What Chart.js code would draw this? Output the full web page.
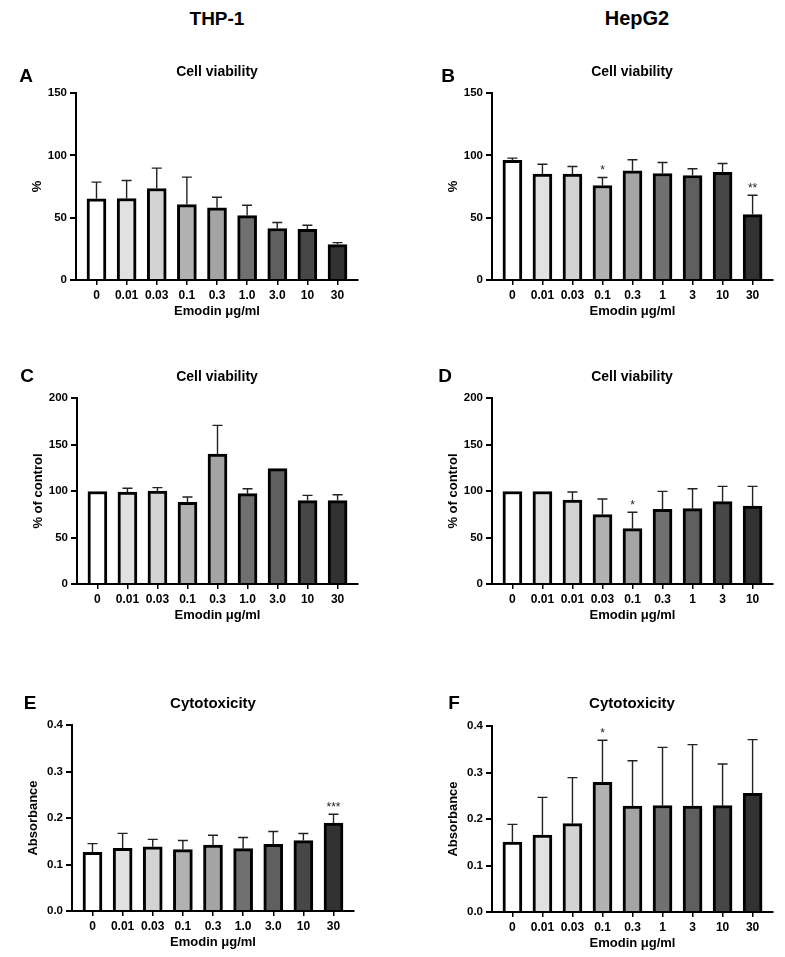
<!DOCTYPE html>
<html>
<head>
<meta charset="utf-8">
<script src="https://cdn.jsdelivr.net/npm/chart.js@4.4.1/dist/chart.umd.min.js"></script>
<style>
  body { margin:0; width:785px; height:957px; overflow:hidden; background:#fff; position:relative;
         font-family:"Liberation Sans", Arial, sans-serif; }
  canvas { position:absolute; }
  .t { position:absolute; transform:translate(-50%,-50%); font-weight:bold; line-height:1;
       white-space:nowrap; color:#000; }
</style>
</head>
<body>
<script>
/* categories (Emodin µg/ml) */
const catsThp   = ['0','0.01','0.03','0.1','0.3','1.0','3.0','10','30'];
const catsHep   = ['0','0.01','0.03','0.1','0.3','1','3','10','30'];
const catsHepD  = ['0','0.01','0.01','0.03','0.1','0.3','1','3','10'];

/* A: THP-1 cell viability (%) */
const meanA  = [65.1, 65.4, 73.4, 60.5, 57.9, 51.7, 41.3, 40.7, 28.4];
const upperA = [78.5, 79.8, 89.7, 82.5, 66.4, 60.0, 46.1, 43.9, 30.0];
const starsA = ['', '', '', '', '', '', '', '', ''];

/* B: HepG2 cell viability (%) */
const meanB  = [95.9, 84.9, 84.9, 75.8, 87.6, 85.4, 83.8, 86.3, 52.5];
const upperB = [97.8, 92.9, 91.1, 82.2, 96.4, 94.3, 89.2, 93.5, 68.0];
const starsB = ['', '', '', '*', '', '', '', '', '**'];

/* C: THP-1 cell viability (% of control) */
const meanC  = [99.5, 98.9, 100.0, 87.8, 139.8, 97.1, 124.0, 89.6, 89.6];
const upperC = [99.5, 102.9, 103.6, 93.5, 170.6, 102.5, 124.7, 95.3, 96.0];
const starsC = ['', '', '', '', '', '', '', '', ''];

/* D: HepG2 cell viability (% of control) */
const meanD  = [99.5, 99.5, 90.3, 74.6, 59.5, 80.3, 81.0, 88.5, 83.9];
const upperD = [99.5, 99.5, 98.9, 91.4, 77.1, 99.6, 102.5, 105.0, 105.0];
const starsD = ['', '', '', '', '*', '', '', '', ''];

/* E: THP-1 cytotoxicity (absorbance) */
const meanE  = [0.126, 0.135, 0.138, 0.132, 0.1415, 0.134, 0.1436, 0.1515, 0.189];
const upperE = [0.145, 0.167, 0.154, 0.1515, 0.163, 0.158, 0.171, 0.1666, 0.208];
const starsE = ['', '', '', '', '', '', '', '', '***'];

/* F: HepG2 cytotoxicity (absorbance) */
const meanF  = [0.1505, 0.1656, 0.19, 0.279, 0.228, 0.229, 0.228, 0.2287, 0.2552];
const upperF = [0.1885, 0.2466, 0.2889, 0.3692, 0.3254, 0.3541, 0.3599, 0.3183, 0.3706];
const starsF = ['', '', '', '*', '', '', '', '', ''];

/* greyscale ramp, one per concentration */
const fills = ['#ffffff','#e1e1e1','#d3d3d3','#b1b1b1','#a4a4a4','#707070','#5f5f5f','#474747','#323232'];

const Y_W = 76, X_H = 48, PAD_T = 13, PAD_R = 10;
const FONT = '"Liberation Sans", Arial, sans-serif';

// upward SD whiskers + significance marks
const errorBars = {
  id: 'errorBars',
  afterDatasetsDraw(chart) {
    const ds = chart.data.datasets[0];
    const { ctx, scales: { x, y } } = chart;
    ctx.save();
    ctx.strokeStyle = '#222';
    ctx.fillStyle = '#222';
    ctx.lineWidth = 1.4;
    ctx.font = '12px ' + FONT;
    ctx.textAlign = 'center';
    ctx.textBaseline = 'bottom';
    ds.upper.forEach((u, i) => {
      const px = x.getPixelForValue(i);
      const y0 = y.getPixelForValue(ds.data[i].y);
      const y1 = y.getPixelForValue(u);
      if (y0 - y1 > 1) {
        ctx.beginPath();
        ctx.moveTo(px, y0); ctx.lineTo(px, y1);
        ctx.moveTo(px - 5, y1); ctx.lineTo(px + 5, y1);
        ctx.stroke();
      }
      if (ds.stars[i]) ctx.fillText(ds.stars[i], px, y1 - 1);
    });
    ctx.restore();
  }
};

function addText(txt, cx, cy, size) {
  const d = document.createElement('div');
  d.className = 't';
  d.textContent = txt;
  d.style.left = cx + 'px';
  d.style.top = cy + 'px';
  d.style.fontSize = size + 'px';
  document.body.appendChild(d);
}

function makePanel(p) {
  const left = p.axL - Y_W, top = p.axT - PAD_T;
  const cv = document.createElement('canvas');
  cv.width = p.axR + PAD_R - left;
  cv.height = p.axB + X_H - top;
  cv.style.left = left + 'px';
  cv.style.top = top + 'px';
  document.body.appendChild(cv);

  const xTickFont = { family: FONT, size: 12, weight: 'bold' };
  const yTickFont = { family: FONT, size: 11.5, weight: 'bold' };
  const titleFont = { family: FONT, size: 13, weight: 'bold' };

  new Chart(cv, {
    type: 'bar',
    data: {
      datasets: [{
        data: p.mean.map((v, i) => ({ x: i, y: v })),
        upper: p.upper, stars: p.stars,
        backgroundColor: fills, borderColor: '#000', borderWidth: 3, barThickness: 19
      }]
    },
    options: {
      responsive: false, animation: false, devicePixelRatio: 1,
      layout: { padding: { top: PAD_T, right: PAD_R, left: 0, bottom: 0 } },
      plugins: { legend: { display: false }, tooltip: { enabled: false } },
      scales: {
        x: {
          type: 'linear', min: -0.68, max: 8.68, offset: false,
          afterBuildTicks: s => { s.ticks = p.cats.map((c, i) => ({ value: i })); },
          afterFit: s => { s.height = X_H; },
          ticks: { color: '#000', font: xTickFont, padding: 3, autoSkip: false, maxRotation: 0,
                   callback: (v, i) => p.cats[i] },
          grid: { offset: false, drawOnChartArea: false, color: '#000', lineWidth: 1.5, tickLength: 5 },
          border: { color: '#000', width: 2 },
          title: { display: true, text: 'Emodin μg/ml', color: '#000', font: titleFont, padding: { bottom: 9 } }
        },
        y: {
          min: 0, max: p.yMax,
          afterFit: s => { s.width = Y_W; },
          ticks: { stepSize: p.step, color: '#000', font: yTickFont, padding: 3, callback: p.fmt },
          grid: { drawOnChartArea: false, color: '#000', lineWidth: 2, tickLength: 6 },
          border: { color: '#000', width: 2 },
          title: { display: true, text: p.yTitle, color: '#000', font: titleFont, padding: { top: 30 } }
        }
      }
    },
    plugins: [errorBars]
  });
}

const intFmt = v => String(v);
const decFmt = v => v.toFixed(1);

// axis frame positions for each panel
const panels = [
  { axL: 76, axT: 93, axB: 280, axR: 358, yMax: 150, step: 50, fmt: intFmt, yTitle: '%',            cats: catsThp,  mean: meanA, upper: upperA, stars: starsA },
  { axL: 492, axT: 93, axB: 280, axR: 773, yMax: 150, step: 50, fmt: intFmt, yTitle: '%',           cats: catsHep,  mean: meanB, upper: upperB, stars: starsB },
  { axL: 77, axT: 398, axB: 584, axR: 358, yMax: 200, step: 50, fmt: intFmt, yTitle: '% of control', cats: catsThp, mean: meanC, upper: upperC, stars: starsC },
  { axL: 492, axT: 398, axB: 584, axR: 773, yMax: 200, step: 50, fmt: intFmt, yTitle: '% of control', cats: catsHepD, mean: meanD, upper: upperD, stars: starsD },
  { axL: 72, axT: 725, axB: 911, axR: 354, yMax: 0.4, step: 0.1, fmt: decFmt, yTitle: 'Absorbance',  cats: catsThp,  mean: meanE, upper: upperE, stars: starsE },
  { axL: 492, axT: 726, axB: 912, axR: 773, yMax: 0.4, step: 0.1, fmt: decFmt, yTitle: 'Absorbance', cats: catsHep,  mean: meanF, upper: upperF, stars: starsF }
];
panels.forEach(makePanel);

/* headers, panel letters, panel titles */
addText('THP-1', 217, 18, 19);
addText('HepG2', 637, 18, 20);
addText('A', 26, 75, 19);
addText('B', 448, 75, 19);
addText('C', 27, 375, 19);
addText('D', 445, 375, 19);
addText('E', 30, 702, 19);
addText('F', 454, 702, 19);
addText('Cell viability', 217, 71, 14);
addText('Cell viability', 632, 71, 14);
addText('Cell viability', 217, 376, 14);
addText('Cell viability', 632, 376, 14);
addText('Cytotoxicity', 213, 702, 15);
addText('Cytotoxicity', 632, 702, 15);
</script>
</body>
</html>
